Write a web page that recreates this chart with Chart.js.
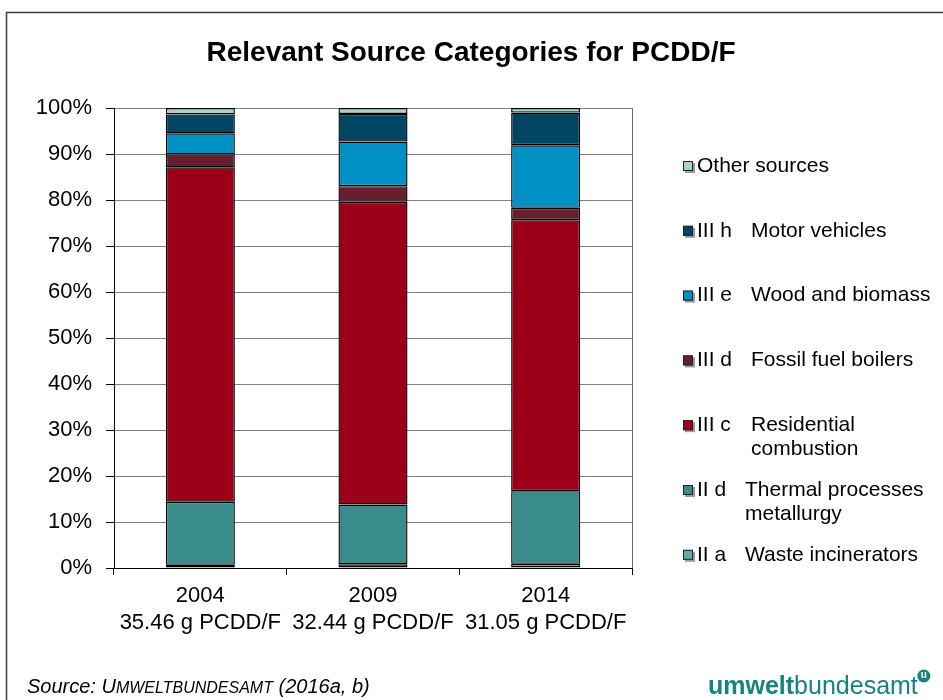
<!DOCTYPE html>
<html>
<head>
<meta charset="utf-8">
<script src="https://cdn.jsdelivr.net/npm/chart.js@4/dist/chart.umd.min.js"></script>
<style>
  html, body { margin: 0; padding: 0; background: #ffffff; }
  #wrap { position: relative; width: 943px; height: 700px; }
</style>
</head>
<body>
<div id="wrap"><canvas id="c" width="943" height="700"></canvas></div>
<script>
// Years and total emissions shown under each bar
const years = ['2004', '2009', '2014'];
const totals = ['35.46 g PCDD/F', '32.44 g PCDD/F', '31.05 g PCDD/F'];

// Share of each source category in percent (bottom of stack first)
const wasteIncinerators = [0.7, 0.8, 0.9];
const thermalProcesses = [13.7, 13.0, 15.8];
const residentialCombustion = [72.7, 65.8, 58.9];
const fossilFuelBoilers = [2.8, 3.4, 2.7];
const woodBiomass = [4.6, 9.7, 13.6];
const motorVehicles = [4.1, 6.0, 7.1];
const otherSources = [1.4, 1.3, 1.0];

// Legend codes and names, same order as the stack
const seriesCodes = ['II a', 'II d', 'III c', 'III d', 'III e', 'III h', ''];
const seriesNames = ['Waste incinerators', 'Thermal processes\nmetallurgy', 'Residential\ncombustion',
  'Fossil fuel boilers', 'Wood and biomass', 'Motor vehicles', 'Other sources'];
const seriesColors = ['#66AAAA', '#398C8B', '#9B0018', '#65202F', '#0090C3', '#004663', '#A8D0D0'];

const yTicks = [0, 10, 20, 30, 40, 50, 60, 70, 80, 90, 100];

const FONT = '"Liberation Sans", Arial, Helvetica, sans-serif';

const seriesValues = [wasteIncinerators, thermalProcesses, residentialCombustion,
  fossilFuelBoilers, woodBiomass, motorVehicles, otherSources];

const datasets = seriesValues.map((vals, i) => ({
  label: (seriesCodes[i] ? seriesCodes[i] + ' ' : '') + seriesNames[i].replace('\n', ' '),
  data: vals,
  backgroundColor: seriesColors[i],
  borderColor: '#000000',
  borderWidth: 1.4,
  borderSkipped: false,
  categoryPercentage: 1.0,
  barPercentage: 0.4
}));

// Frame, title, plot border, legend and footer
const decorations = {
  id: 'decorations',
  beforeDraw(chart) {
    const ctx = chart.ctx;
    ctx.save();
    ctx.fillStyle = '#ffffff';
    ctx.fillRect(0, 0, chart.width, chart.height);
    ctx.strokeStyle = '#3a3a3a';
    ctx.lineWidth = 1.5;
    ctx.strokeRect(6.5, 12.5, chart.width + 20, chart.height + 20);
    ctx.restore();
  },
  afterDatasetsDraw(chart) {
    const ctx = chart.ctx;
    const a = chart.chartArea;
    ctx.save();
    // right edge of the plot area
    ctx.strokeStyle = '#6a6a6a';
    ctx.lineWidth = 1;
    ctx.beginPath();
    ctx.moveTo(Math.round(a.right) + 0.5, a.top);
    ctx.lineTo(Math.round(a.right) + 0.5, a.bottom);
    ctx.stroke();
    ctx.restore();
  },
  afterDraw(chart) {
    const ctx = chart.ctx;
    ctx.save();
    // title
    ctx.fillStyle = '#000000';
    ctx.font = 'bold 28px ' + FONT;
    ctx.textAlign = 'center';
    ctx.textBaseline = 'middle';
    ctx.fillText('Relevant Source Categories for PCDD/F', 471, 53);

    // legend (top of stack listed first)
    ctx.font = '21px ' + FONT;
    ctx.textAlign = 'left';
    const n = seriesNames.length;
    for (let k = 0; k < n; k++) {
      const i = n - 1 - k;
      const cy = 166 + k * 64.8;
      // marker with a soft shadow
      ctx.fillStyle = '#9a9a9a';
      ctx.fillRect(685, cy - 3, 10, 10);
      ctx.fillStyle = seriesColors[i];
      ctx.fillRect(683, cy - 5, 10, 10);
      ctx.strokeStyle = '#222222';
      ctx.lineWidth = 1;
      ctx.strokeRect(683.5, cy - 4.5, 9, 9);
      ctx.fillStyle = '#000000';
      const lines = seriesNames[i].split('\n');
      if (!seriesCodes[i]) {
        ctx.fillText(lines[0], 697, cy);
      } else {
        ctx.fillText(seriesCodes[i], 697, cy);
        const nx = seriesCodes[i].startsWith('III') ? 751 : 745;
        lines.forEach((ln, j) => ctx.fillText(ln, nx, cy + j * 24.5));
      }
    }

    // source note
    ctx.textBaseline = 'alphabetic';
    let x = 27;
    const by = 693;
    const part = (t, f) => { ctx.font = f; ctx.fillText(t, x, by); x += ctx.measureText(t).width; };
    part('Source: ', 'italic 20px ' + FONT);
    part('U', 'italic 20px ' + FONT);
    part('MWELTBUNDESAMT', 'italic 16px ' + FONT);
    part(' (2016a, b)', 'italic 20px ' + FONT);

    // agency wordmark
    const teal = '#17837F';
    ctx.fillStyle = teal;
    let lx = 708;
    ctx.font = 'bold 25px ' + FONT;
    ctx.fillText('umwelt', lx, 694);
    lx += ctx.measureText('umwelt').width;
    ctx.font = '25px ' + FONT;
    ctx.fillText('bundesamt', lx, 694);
    lx += ctx.measureText('bundesamt').width;
    ctx.beginPath();
    ctx.arc(lx + 6, 676, 6.5, 0, Math.PI * 2);
    ctx.fill();
    ctx.fillStyle = '#ffffff';
    ctx.font = 'bold 10px ' + FONT;
    ctx.textAlign = 'center';
    ctx.textBaseline = 'middle';
    ctx.fillText('u', lx + 6, 675.5);
    ctx.restore();
  }
};

new Chart(document.getElementById('c'), {
  type: 'bar',
  data: { labels: years.map((y, i) => [y, totals[i]]), datasets },
  options: {
    responsive: false,
    animation: false,
    devicePixelRatio: 1,
    layout: { padding: { left: 0, right: 311, top: 108, bottom: 0 } },
    plugins: {
      legend: { display: false },
      title: { display: false },
      tooltip: { enabled: false }
    },
    scales: {
      x: {
        stacked: true,
        offset: true,
        grid: {
          offset: true,
          drawOnChartArea: false,
          drawTicks: true,
          tickLength: 7,
          tickColor: '#000000',
          color: '#000000'
        },
        border: { color: '#000000', width: 1 },
        ticks: {
          color: '#000000',
          font: { family: FONT, size: 22, lineHeight: 1.22 },
          padding: 8,
          maxRotation: 0
        },
        afterFit(scale) { scale.height = 132; }
      },
      y: {
        stacked: true,
        min: 0,
        max: 100,
        afterBuildTicks(scale) { scale.ticks = yTicks.map(v => ({ value: v })); },
        grid: {
          color: '#808080',
          lineWidth: 1,
          drawTicks: true,
          tickLength: 8,
          tickColor: '#000000'
        },
        border: { color: '#000000', width: 1 },
        ticks: {
          color: '#000000',
          font: { family: FONT, size: 22 },
          padding: 14,
          callback: v => v + '%'
        },
        afterFit(scale) { scale.width = 114; }
      }
    }
  },
  plugins: [decorations]
});
</script>
</body>
</html>
